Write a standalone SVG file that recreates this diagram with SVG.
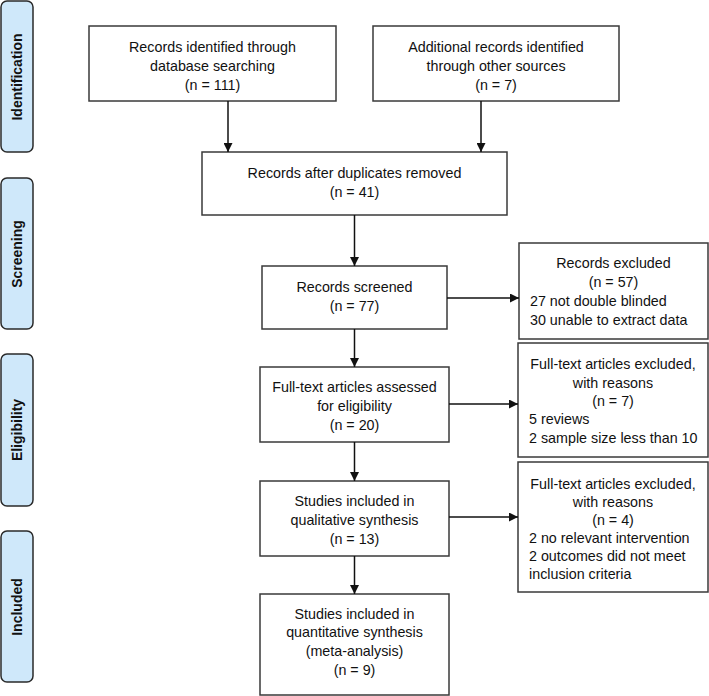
<svg xmlns="http://www.w3.org/2000/svg" width="709" height="696" viewBox="0 0 709 696">
<style>
.box{fill:#fff;stroke:#3a3a3a;stroke-width:1.5}
.side{fill:#cfe8fa;stroke:#2a2a2a;stroke-width:1.5}
.t{font-family:"Liberation Sans",Arial,sans-serif;font-size:14.3px;fill:#111}
.c{text-anchor:middle}
.s{font-family:"Liberation Sans",Arial,sans-serif;font-size:14px;font-weight:bold;fill:#111;text-anchor:middle}
.ln{stroke:#111;stroke-width:1.5;fill:none;marker-end:url(#ah)}
</style>
<defs>
<marker id="ah" viewBox="0 0 10 10" refX="10" refY="5" markerWidth="9" markerHeight="9" markerUnits="userSpaceOnUse" orient="auto">
<path d="M0,0 L10,5 L0,10 z" fill="#111"/>
</marker>
</defs>
<rect width="709" height="696" fill="#fff"/>
<g id="phase-identification"><rect class="side" x="1" y="1" width="32" height="151" rx="6"/><text class="s" transform="translate(22,77) rotate(-90)">Identification</text></g>
<g id="phase-screening"><rect class="side" x="1" y="178" width="32" height="151" rx="6"/><text class="s" transform="translate(22,254) rotate(-90)">Screening</text></g>
<g id="phase-eligibility"><rect class="side" x="1" y="354" width="32" height="152" rx="6"/><text class="s" transform="translate(22,430) rotate(-90)">Eligibility</text></g>
<g id="phase-included"><rect class="side" x="1" y="531" width="32" height="151" rx="6"/><text class="s" transform="translate(22,607) rotate(-90)">Included</text></g>

<g id="db"><rect class="box" x="89" y="26" width="247" height="75"/>
<text class="t c" x="212.5" y="52">Records identified through</text>
<text class="t c" x="212.5" y="71">database searching</text>
<text class="t c" x="212.5" y="90">(n = 111)</text></g>
<g id="other"><rect class="box" x="373" y="26" width="246" height="75"/>
<text class="t c" x="496" y="52">Additional records identified</text>
<text class="t c" x="496" y="71">through other sources</text>
<text class="t c" x="496" y="90">(n = 7)</text></g>
<g id="dup"><rect class="box" x="202" y="152" width="305" height="63"/>
<text class="t c" x="354.5" y="178">Records after duplicates removed</text>
<text class="t c" x="354.5" y="197">(n = 41)</text></g>
<g id="screened"><rect class="box" x="262" y="266" width="185" height="63"/>
<text class="t c" x="354.5" y="292">Records screened</text>
<text class="t c" x="354.5" y="311">(n = 77)</text></g>
<g id="excl1"><rect class="box" x="519" y="243" width="189" height="96"/>
<text class="t c" x="613.5" y="268">Records excluded</text>
<text class="t c" x="613.5" y="287">(n = 57)</text>
<text class="t" x="530" y="306">27 not double blinded</text>
<text class="t" x="530" y="325">30 unable to extract data</text></g>
<g id="fulltext"><rect class="box" x="260" y="367" width="189" height="75"/>
<text class="t c" x="354.5" y="392">Full-text articles assessed</text>
<text class="t c" x="354.5" y="411">for eligibility</text>
<text class="t c" x="354.5" y="430">(n = 20)</text></g>
<g id="excl2"><rect class="box" x="518" y="343" width="190" height="114"/>
<text class="t c" x="613" y="369">Full-text articles excluded,</text>
<text class="t c" x="613" y="388">with reasons</text>
<text class="t c" x="613" y="406">(n = 7)</text>
<text class="t" x="529" y="424">5 reviews</text>
<text class="t" x="529" y="443">2 sample size less than 10</text></g>
<g id="qual"><rect class="box" x="260" y="481" width="189" height="75"/>
<text class="t c" x="354.5" y="506">Studies included in</text>
<text class="t c" x="354.5" y="525">qualitative synthesis</text>
<text class="t c" x="354.5" y="544">(n = 13)</text></g>
<g id="excl3"><rect class="box" x="518" y="462" width="190" height="130"/>
<text class="t c" x="613" y="489">Full-text articles excluded,</text>
<text class="t c" x="613" y="507">with reasons</text>
<text class="t c" x="613" y="525">(n = 4)</text>
<text class="t" x="529" y="543">2 no relevant intervention</text>
<text class="t" x="529" y="561">2 outcomes did not meet</text>
<text class="t" x="529" y="579">inclusion criteria</text></g>
<g id="quant"><rect class="box" x="260" y="594" width="189" height="101"/>
<text class="t c" x="354.5" y="619">Studies included in</text>
<text class="t c" x="354.5" y="637">quantitative synthesis</text>
<text class="t c" x="354.5" y="656">(meta-analysis)</text>
<text class="t c" x="354.5" y="675">(n = 9)</text></g>

<g id="connectors">
<line class="ln" x1="228" y1="101" x2="228" y2="152"/>
<line class="ln" x1="481" y1="101" x2="481" y2="152"/>
<line class="ln" x1="354.5" y1="215" x2="354.5" y2="266"/>
<line class="ln" x1="354.5" y1="329" x2="354.5" y2="367"/>
<line class="ln" x1="354.5" y1="442" x2="354.5" y2="481"/>
<line class="ln" x1="354.5" y1="556" x2="354.5" y2="594"/>
<line class="ln" x1="447" y1="298" x2="519" y2="298"/>
<line class="ln" x1="449" y1="404" x2="518" y2="404"/>
<line class="ln" x1="449" y1="517" x2="518" y2="517"/>
</g>
</svg>
